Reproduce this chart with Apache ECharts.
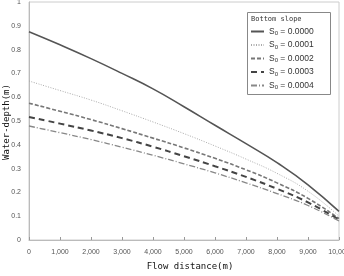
<!DOCTYPE html>
<html><head><meta charset="utf-8">
<script src="https://cdn.jsdelivr.net/npm/echarts@6/dist/echarts.min.js"></script>
<style>html,body{margin:0;padding:0;background:#fff}#c{width:344px;height:276px}</style>
</head><body><div id="c"></div>
<script>
const distances = [0,1000,2000,3000,4000,5000,6000,7000,8000,9000,10000];
const s0000 = [0.875,0.820,0.762,0.700,0.635,0.560,0.482,0.405,0.325,0.232,0.120];
const s0001 = [0.668,0.628,0.588,0.543,0.496,0.447,0.395,0.340,0.280,0.205,0.100];
const s0002 = [0.575,0.541,0.506,0.468,0.428,0.387,0.343,0.295,0.240,0.175,0.090];
const s0003 = [0.517,0.489,0.460,0.428,0.392,0.352,0.310,0.265,0.215,0.158,0.085];
const s0004 = [0.479,0.451,0.422,0.390,0.356,0.320,0.282,0.240,0.195,0.145,0.080];
const seriesNames = ['S0 = 0.0000','S0 = 0.0001','S0 = 0.0002','S0 = 0.0003','S0 = 0.0004'];
const yTicks = [0,0.1,0.2,0.3,0.4,0.5,0.6,0.7,0.8,0.9,1];

const styles = [
  {color:'#555', width:1.6, type:'solid'},
  {color:'#aaa', width:1, type:[1,1.5]},
  {color:'#777', width:1.6, type:[4,2]},
  {color:'#444', width:2, type:[6,4]},
  {color:'#888', width:1.3, type:[6,2,1,2]}
];
const datas = [s0000,s0001,s0002,s0003,s0004];
const chart = echarts.init(document.getElementById('c'));
chart.setOption({
  animation:false,
  grid:{left:29,right:5,top:2,bottom:36,show:true,borderColor:'#ccc',borderWidth:1,
    containLabel:false,outerBoundsMode:'none'},
  xAxis:{type:'value',min:0,max:10000,interval:1000,
    axisLine:{lineStyle:{color:'#bbb'}},axisTick:{show:true,length:3,inside:true,lineStyle:{color:'#999'}},
    splitLine:{show:false},
    axisLabel:{fontSize:7,color:'#555',fontFamily:'Liberation Sans',margin:9,
      formatter:v=>v.toLocaleString('en-US')},
    name:'Flow distance(m)',nameLocation:'middle',nameGap:22,
    nameTextStyle:{fontSize:9,color:'#111',fontFamily:'DejaVu Sans Mono',padding:[0,0,0,12]}},
  yAxis:{type:'value',min:0,max:1,interval:0.1,
    axisLine:{show:true,lineStyle:{color:'#bbb'}},axisTick:{show:false},splitLine:{show:false},
    axisLabel:{fontSize:7,color:'#555',fontFamily:'Liberation Sans',margin:8,
      formatter:v=>{const t=yTicks.find(x=>Math.abs(x-v)<1e-9);return t===undefined?'':String(+t.toFixed(1));}}},
  legend:{orient:'vertical',left:250,top:27,itemWidth:13,itemHeight:8,itemGap:4,padding:[0,0,0,0],
    itemStyle:{opacity:0},
    textStyle:{fontSize:8.5,color:'#333',fontFamily:'Liberation Sans',
      rich:{sub:{fontSize:6,verticalAlign:'bottom',padding:[4,0,0,0],color:'#333'}}},
    formatter:n=>'S{sub|0} = '+n.split('= ')[1],
    data:seriesNames},
  graphic:[
    {type:'rect',shape:{x:247.5,y:12.5,width:83,height:82},style:{fill:'none',stroke:'#888',lineWidth:1}},
    {type:'text',left:251,top:16,style:{text:'Bottom slope',fontSize:7,fill:'#333',fontFamily:'DejaVu Sans Mono'}},
    {type:'text',x:7,y:122,rotation:Math.PI/2,
      style:{text:'Water-depth(m)',fontSize:9,fill:'#111',fontFamily:'DejaVu Sans Mono',align:'center',verticalAlign:'middle'}}
  ],
  series:datas.map((d,i)=>({
    name:seriesNames[i],type:'line',showSymbol:false,symbol:'none',smooth:true,
    data:distances.map((x,j)=>[x,d[j]]),
    lineStyle:styles[i],itemStyle:{color:styles[i].color}
  }))
});
</script></body></html>
